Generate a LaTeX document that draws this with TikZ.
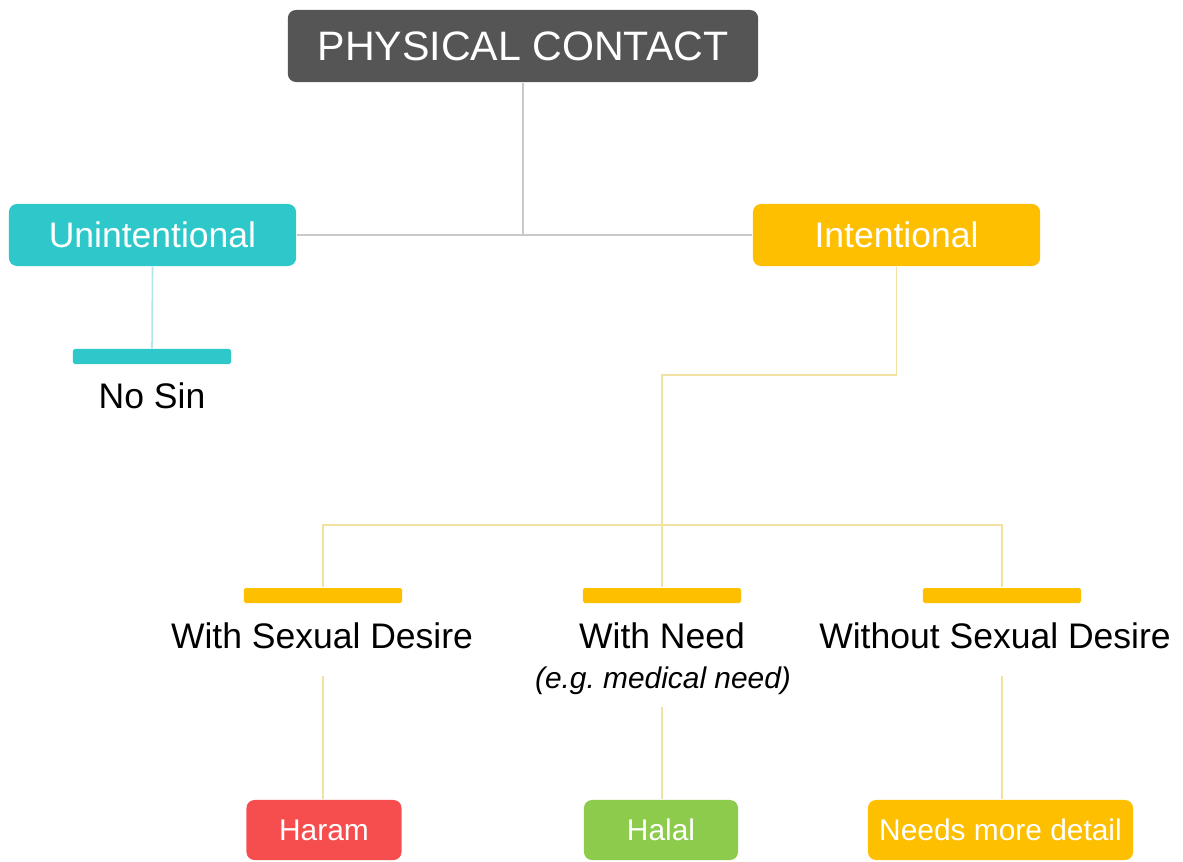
\documentclass[tikz,border=0pt]{standalone}
\usepackage{fontspec}
\setmainfont{Liberation Sans}

\definecolor{darkbox}{HTML}{555555}
\definecolor{tealbox}{HTML}{2EC8CB}
\definecolor{amberbox}{HTML}{FDBF00}
\definecolor{haramred}{HTML}{F64E4E}
\definecolor{halalgreen}{HTML}{8CCB4C}
\definecolor{graylink}{HTML}{C9C9C9}
\definecolor{teallink}{HTML}{B0E6E8}
\definecolor{amberlink}{HTML}{F2E2A2}

\newcommand\sizetop{\fontsize{11.7}{14}\selectfont}
\newcommand\sizemid{\fontsize{10.1}{12}\selectfont}
\newcommand\sizelow{\fontsize{8.5}{10}\selectfont}

\begin{document}
\begin{tikzpicture}[x=0.01cm,y=-0.01cm,
  box/.style={rounded corners=2.3pt,text=white,inner sep=0pt},
  bar/.style={rounded corners=0.5pt,minimum width=1.58cm,minimum height=0.15cm,inner sep=0pt},
  link/.style={line width=0.45pt}]
\useasboundingbox (0,0) rectangle (1183,861);

% Top
\node[box,fill=darkbox,minimum width=4.7cm,minimum height=0.72cm,font=\sizetop] (contact) at (523,46) {PHYSICAL CONTACT};
\node[box,fill=tealbox,minimum width=2.87cm,minimum height=0.62cm,font=\sizemid] (unint) at (152.5,235) {Unintentional};
\node[box,fill=amberbox,minimum width=2.87cm,minimum height=0.62cm,font=\sizemid] (intent) at (896.5,235) {Intentional};
\draw[link,graylink] (contact.south) -- (contact.south |- unint.east);
\draw[link,graylink] (unint.east) -- (intent.west);

% Unintentional
\node[bar,fill=tealbox] (nosinbar) at (152,356.5) {};
\node[anchor=base,font=\sizemid] (nosin) at (152,408) {No Sin};
\draw[link,teallink] (unint.south) -- (nosinbar.north);

% Intentional
\coordinate (bend) at (662,375);
\coordinate (split) at (662,525);
\node[bar,fill=amberbox] (desirebar) at (323,595.5) {};
\node[bar,fill=amberbox] (needbar) at (662,595.5) {};
\node[bar,fill=amberbox] (nodesirebar) at (1002,595.5) {};
\draw[link,amberlink] (intent.south) |- (bend) -- (needbar.north);
\draw[link,amberlink] (desirebar.north) |- (split) -| (nodesirebar.north);

\node[anchor=base,font=\sizemid] (desire) at (322,648) {With Sexual Desire};
\node[anchor=base,font=\sizemid] (need) at (662,648) {With Need};
\node[anchor=base,font=\sizelow\itshape] (needeg) at (663,688) {(e.g.\ medical need)};
\node[anchor=base,font=\sizemid] (nodesire) at (995,648) {Without Sexual Desire};

% Results
\node[box,fill=haramred,minimum width=1.55cm,minimum height=0.6cm,font=\sizelow] (haram) at (324,830) {Haram};
\node[box,fill=halalgreen,minimum width=1.54cm,minimum height=0.6cm,font=\sizelow] (halal) at (661,830) {Halal};
\node[box,fill=amberbox,minimum width=2.65cm,minimum height=0.6cm,font=\sizelow] (nomore) at (1000.5,830) {Needs more detail};
\draw[link,amberlink,shorten <=4.3pt] (desire.south -| desirebar.south) -- (desirebar.south |- haram.north);
\draw[link,amberlink] (needeg.south -| needbar.south) -- (needbar.south |- halal.north);
\draw[link,amberlink,shorten <=4.3pt] (nodesire.south -| nodesirebar.south) -- (nodesirebar.south |- nomore.north);
\end{tikzpicture}
\end{document}
